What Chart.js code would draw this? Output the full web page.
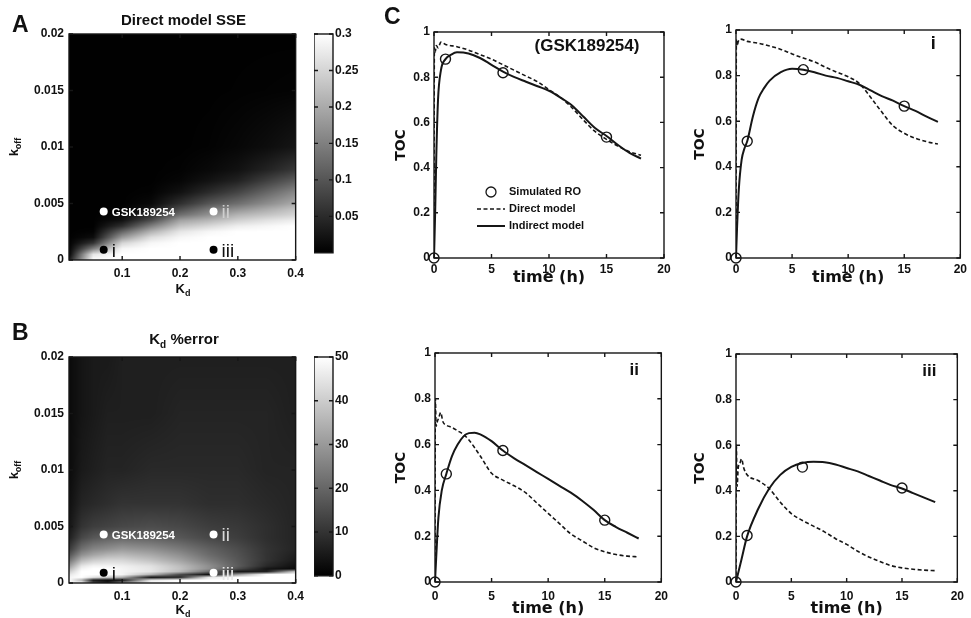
<!DOCTYPE html>
<html>
<head>
<meta charset="utf-8">
<script src="https://cdn.jsdelivr.net/npm/chart.js@4.4.1/dist/chart.umd.min.js"></script>
<style>
body { margin: 0; background: #fff; width: 971px; height: 618px; overflow: hidden; position: relative; }
canvas { position: absolute; }
</style>
</head>
<body>
<canvas id="heatA" width="310" height="300" style="left:0;top:0"></canvas>
<canvas id="barA" width="50" height="262" style="left:314px;top:0"></canvas>
<canvas id="heatB" width="310" height="318" style="left:0;top:300px"></canvas>
<canvas id="barB" width="50" height="285" style="left:314px;top:300px"></canvas>
<canvas id="tocGsk" width="295" height="287" style="left:380px;top:0"></canvas>
<canvas id="tocI" width="279" height="287" style="left:692px;top:0"></canvas>
<canvas id="tocII" width="295" height="318" style="left:380px;top:300px"></canvas>
<canvas id="tocIII" width="279" height="318" style="left:692px;top:300px"></canvas>
<script>
// panel A: direct model SSE over (Kd, koff)
const kdA = [0.008, 0.05, 0.1, 0.15, 0.2, 0.25, 0.3, 0.35, 0.4];
const koffA = [0, 0.0005, 0.001, 0.0015, 0.002, 0.0025, 0.003, 0.0035, 0.004, 0.0045, 0.005, 0.006, 0.007, 0.008, 0.01, 0.015, 0.02];
const sseA = [
    [0.03, 0.3, 0.3, 0.3, 0.3, 0.3, 0.3, 0.3, 0.3],
    [0.003, 0.27, 0.3, 0.3, 0.3, 0.3, 0.3, 0.3, 0.3],
    [0.001, 0.15, 0.29, 0.3, 0.3, 0.3, 0.3, 0.3, 0.3],
    [0.001, 0.06, 0.25, 0.29, 0.3, 0.3, 0.3, 0.3, 0.3],
    [0.001, 0.015, 0.18, 0.26, 0.29, 0.3, 0.3, 0.3, 0.3],
    [0.001, 0.004, 0.12, 0.21, 0.27, 0.29, 0.3, 0.3, 0.3],
    [0.001, 0.001, 0.055, 0.15, 0.23, 0.255, 0.28, 0.29, 0.3],
    [0.001, 0.001, 0.02, 0.09, 0.19, 0.215, 0.245, 0.265, 0.28],
    [0.001, 0.001, 0.007, 0.05, 0.13, 0.17, 0.21, 0.23, 0.25],
    [0.001, 0.001, 0.003, 0.025, 0.09, 0.14, 0.17, 0.2, 0.23],
    [0.001, 0.001, 0.001, 0.01, 0.055, 0.1, 0.13, 0.165, 0.2],
    [0.001, 0.001, 0.001, 0.003, 0.02, 0.05, 0.08, 0.12, 0.16],
    [0.001, 0.001, 0.001, 0.001, 0.007, 0.022, 0.04, 0.075, 0.11],
    [0.001, 0.001, 0.001, 0.001, 0.003, 0.01, 0.02, 0.04, 0.065],
    [0.001, 0.001, 0.001, 0.001, 0.001, 0.003, 0.008, 0.015, 0.025],
    [0.001, 0.001, 0.001, 0.001, 0.001, 0.001, 0.002, 0.003, 0.004],
    [0.001, 0.001, 0.001, 0.001, 0.001, 0.001, 0.001, 0.001, 0.001]
];

// panel B: Kd %error over (Kd, koff)
const kdB = [0.008, 0.03, 0.05, 0.075, 0.1, 0.15, 0.2, 0.25, 0.3, 0.35, 0.4];
const koffB = [0, 0.00025, 0.0005, 0.00075, 0.001, 0.00125, 0.0015, 0.002, 0.0025, 0.003, 0.004, 0.005, 0.007, 0.01, 0.015, 0.02];
const errB = [
    [48, 50, 15, 5, 30, 50, 50, 50, 50, 50, 50],
    [50, 35, 5, 2, 4, 45, 50, 50, 50, 50, 50],
    [48, 50, 45, 40, 35, 3, 8, 45, 50, 50, 50],
    [45, 50, 50, 50, 48, 35, 15, 3, 30, 50, 50],
    [40, 50, 50, 50, 48, 45, 36, 20, 4, 6, 40],
    [35, 48, 50, 50, 48, 45, 38, 28, 15, 4, 2],
    [30, 45, 48, 48, 47, 44, 37, 28, 18, 8, 3],
    [22, 36, 40, 42, 42, 38, 32, 24, 17, 10, 5],
    [16, 28, 32, 35, 36, 33, 28, 21, 16, 10, 6],
    [11, 22, 26, 28, 30, 28, 24, 19, 15, 10, 7],
    [6, 14, 17, 19, 20, 19, 17, 14, 12, 9, 7],
    [4, 10, 12, 13, 14, 15, 14, 12, 11, 9, 7],
    [3, 7, 8, 9, 10, 10, 10, 9, 9, 8, 7],
    [2, 5, 6, 7, 7, 8, 8, 8, 8, 7, 7],
    [2, 4, 5, 6, 6, 6, 7, 7, 7, 7, 6],
    [2, 4, 5, 5, 6, 6, 6, 6, 6, 6, 6]
];

const kdTicks = [0.1, 0.2, 0.3, 0.4];
const koffTicks = [0, 0.005, 0.01, 0.015, 0.02];
const sseBarTicks = [0.05, 0.1, 0.15, 0.2, 0.25, 0.3];
const errBarTicks = [0, 10, 20, 30, 40, 50];

// marked compounds on the maps
const markNames = ['GSK189254', 'ii', 'i', 'iii'];
const markKd = [0.068, 0.258, 0.068, 0.258];
const markKoff = [0.0043, 0.0043, 0.0009, 0.0009];

// panel C: target occupancy vs time
const roTimes = [0, 1, 6, 15];
const roGsk = [0, 0.88, 0.82, 0.535];
const roI = [0, 0.512, 0.826, 0.666];
const roII = [0, 0.472, 0.574, 0.27];
const roIII = [0, 0.204, 0.504, 0.412];

const directTGsk = [0, 0.03, 0.1, 0.2, 0.35, 0.6, 1, 2, 3, 4, 5, 6, 7, 8, 9, 10, 11, 12, 13, 14, 15, 16, 17, 18];
const directGsk = [0, 0.93, 0.91, 0.94, 0.93, 0.955, 0.945, 0.935, 0.92, 0.9, 0.88, 0.855, 0.83, 0.805, 0.78, 0.745, 0.71, 0.665, 0.61, 0.56, 0.525, 0.495, 0.47, 0.455];
const indirectTGsk = [0, 0.1, 0.2, 0.35, 0.6, 1, 1.5, 2, 3, 4, 5, 6, 7, 8, 9, 10, 11, 12, 13, 14, 15, 16, 17, 18];
const indirectGsk = [0, 0.2, 0.45, 0.7, 0.83, 0.88, 0.9, 0.91, 0.905, 0.885, 0.855, 0.825, 0.8, 0.78, 0.76, 0.74, 0.71, 0.675, 0.625, 0.575, 0.54, 0.5, 0.465, 0.44];

const directTI = [0, 0.03, 0.1, 0.2, 0.4, 1, 2, 3, 4, 5, 6, 7, 8, 9, 10, 11, 12, 13, 14, 15, 16, 17, 18];
const directI = [0, 0.96, 0.93, 0.95, 0.96, 0.95, 0.942, 0.93, 0.915, 0.895, 0.877, 0.86, 0.836, 0.815, 0.795, 0.765, 0.705, 0.64, 0.58, 0.547, 0.525, 0.51, 0.5];
const indirectTI = [0, 0.1, 0.25, 0.5, 0.75, 1, 1.5, 2, 2.5, 3, 4, 5, 6, 7, 8, 9, 10, 11, 12, 13, 14, 15, 16, 17, 18];
const indirectI = [0, 0.14, 0.3, 0.43, 0.48, 0.512, 0.62, 0.7, 0.745, 0.778, 0.815, 0.83, 0.826, 0.815, 0.8, 0.79, 0.775, 0.76, 0.735, 0.71, 0.69, 0.666, 0.645, 0.62, 0.597];

const directTII = [0, 0.03, 0.1, 0.2, 0.35, 0.5, 0.7, 1, 1.5, 2, 2.5, 3, 4, 5, 6, 7, 8, 9, 10, 11, 12, 13, 14, 15, 16, 17, 18];
const directII = [0, 0.8, 0.68, 0.7, 0.72, 0.74, 0.7, 0.685, 0.675, 0.66, 0.645, 0.62, 0.55, 0.475, 0.445, 0.42, 0.39, 0.345, 0.3, 0.255, 0.21, 0.18, 0.15, 0.132, 0.12, 0.113, 0.11];
const indirectTII = [0, 0.1, 0.3, 0.6, 1, 1.5, 2, 2.5, 3, 3.5, 4, 5, 6, 7, 8, 9, 10, 11, 12, 13, 14, 15, 16, 17, 18];
const indirectII = [0, 0.1, 0.28, 0.4, 0.472, 0.55, 0.6, 0.635, 0.65, 0.652, 0.645, 0.615, 0.574, 0.54, 0.51, 0.48, 0.45, 0.42, 0.39, 0.355, 0.315, 0.27, 0.24, 0.215, 0.19];

const directTIII = [0, 0.03, 0.1, 0.2, 0.35, 0.5, 0.7, 1, 2, 3, 4, 5, 6, 7, 8, 9, 10, 11, 12, 13, 14, 15, 16, 17, 18];
const directIII = [0, 0.6, 0.42, 0.5, 0.52, 0.54, 0.5, 0.47, 0.445, 0.41, 0.35, 0.3, 0.27, 0.245, 0.22, 0.19, 0.165, 0.135, 0.11, 0.09, 0.072, 0.062, 0.056, 0.052, 0.05];
const indirectTIII = [0, 0.5, 1, 2, 3, 4, 5, 6, 7, 8, 9, 10, 11, 12, 13, 14, 15, 16, 17, 18];
const indirectIII = [0, 0.1, 0.2, 0.32, 0.41, 0.47, 0.505, 0.522, 0.527, 0.525, 0.515, 0.5, 0.485, 0.465, 0.445, 0.425, 0.41, 0.39, 0.37, 0.35];

const seriesNames = ['Simulated RO', 'Direct model', 'Indirect model'];

Chart.defaults.font.family = "'Liberation Sans', Arial, sans-serif";
Chart.defaults.color = '#111';
let tickFont = { size: 12, weight: 'bold' };
let noGrid = { display: false, drawTicks: false, tickLength: 0 };
let ink = '#161616';
let fmt = v => String(parseFloat(Number(v).toFixed(4)));

function findCell(arr, v) {
    if (v <= arr[0]) return [0, 0];
    for (let i = 0; i < arr.length - 1; i++) {
        if (v <= arr[i + 1]) return [i, (v - arr[i]) / (arr[i + 1] - arr[i])];
    }
    return [arr.length - 2, 1];
}

function sampleGrid(xs, ys, z, x, y) {
    let [i, fx] = findCell(xs, x);
    let [j, fy] = findCell(ys, y);
    let top = z[j][i] * (1 - fx) + z[j][i + 1] * fx;
    let bot = z[j + 1][i] * (1 - fx) + z[j + 1][i + 1] * fx;
    return top * (1 - fy) + bot * fy;
}

function heatPlugin(xs, ys, z, vmax) {
    return {
        id: 'heat',
        beforeDatasetsDraw(chart) {
            let a = chart.chartArea;
            let sx = chart.scales.x, sy = chart.scales.y;
            let w = Math.round(a.right - a.left), h = Math.round(a.bottom - a.top);
            let off = document.createElement('canvas');
            off.width = w; off.height = h;
            let octx = off.getContext('2d');
            let img = octx.createImageData(w, h);
            for (let py = 0; py < h; py++) {
                let koff = sy.getValueForPixel(a.top + py + 0.5);
                for (let px = 0; px < w; px++) {
                    let kd = sx.getValueForPixel(a.left + px + 0.5);
                    let v = sampleGrid(xs, ys, z, kd, koff) / vmax;
                    let g = Math.round(255 * Math.max(0, Math.min(1, v)));
                    let k = (py * w + px) * 4;
                    img.data[k] = g; img.data[k + 1] = g; img.data[k + 2] = g; img.data[k + 3] = 255;
                }
            }
            octx.putImageData(img, 0, 0);
            chart.ctx.drawImage(off, a.left, a.top);
        }
    };
}

let boxPlugin = {
    id: 'box',
    afterDraw(chart) {
        let ctx = chart.ctx, a = chart.chartArea, len = 4;
        ctx.save();
        ctx.strokeStyle = ink;
        ctx.lineWidth = 1.4;
        ctx.strokeRect(a.left, a.top, a.right - a.left, a.bottom - a.top);
        ctx.beginPath();
        let sx = chart.scales.x, sy = chart.scales.y;
        if (sx.options.display !== false) {
            sx.ticks.forEach(t => {
                let p = sx.getPixelForValue(t.value);
                ctx.moveTo(p, a.bottom); ctx.lineTo(p, a.bottom - len);
                ctx.moveTo(p, a.top); ctx.lineTo(p, a.top + len);
            });
        }
        sy.ticks.forEach(t => {
            let p = sy.getPixelForValue(t.value);
            ctx.moveTo(a.left, p); ctx.lineTo(a.left + len, p);
            ctx.moveTo(a.right, p); ctx.lineTo(a.right - len, p);
        });
        ctx.stroke();
        ctx.restore();
    }
};

let gradientPlugin = {
    id: 'gradient',
    beforeDatasetsDraw(chart) {
        let ctx = chart.ctx, a = chart.chartArea, sy = chart.scales.y;
        let g = ctx.createLinearGradient(0, sy.getPixelForValue(sy.min), 0, sy.getPixelForValue(sy.max));
        g.addColorStop(0, '#000');
        g.addColorStop(1, '#fff');
        ctx.save();
        ctx.fillStyle = g;
        ctx.fillRect(a.left, a.top, a.right - a.left, a.bottom - a.top);
        ctx.restore();
    }
};

// draws a run of text pieces, some of them subscripts
function drawParts(ctx, parts, x, y, align) {
    let widths = parts.map(p => {
        ctx.font = 'bold ' + p.size + "px 'Liberation Sans', Arial, sans-serif";
        return ctx.measureText(p.t).width;
    });
    let total = widths.reduce((s, w) => s + w, 0);
    let cx = align === 'center' ? x - total / 2 : x;
    ctx.textAlign = 'left';
    ctx.textBaseline = 'alphabetic';
    parts.forEach((p, i) => {
        ctx.font = 'bold ' + p.size + "px 'Liberation Sans', Arial, sans-serif";
        ctx.fillText(p.t, cx, y + (p.dy || 0));
        cx += widths[i];
    });
}

function textPlugin(draw) {
    return {
        id: 'texts',
        afterDraw(chart) {
            let ctx = chart.ctx;
            ctx.save();
            ctx.fillStyle = '#111';
            draw(ctx, chart.chartArea);
            ctx.restore();
        }
    };
}

function markLabelPlugin(colors) {
    return {
        id: 'markLabels',
        afterDatasetsDraw(chart) {
            let ctx = chart.ctx;
            let pts = chart.getDatasetMeta(0).data;
            ctx.save();
            ctx.textAlign = 'left';
            pts.forEach((pt, i) => {
                ctx.fillStyle = colors[i];
                if (i === 0) {
                    ctx.font = "bold 11.5px 'Liberation Sans', Arial, sans-serif";
                    ctx.textBaseline = 'middle';
                    ctx.fillText(markNames[i], pt.x + 8, pt.y + 1);
                } else {
                    ctx.font = "19px 'Liberation Sans', Arial, sans-serif";
                    ctx.textBaseline = 'alphabetic';
                    ctx.fillText(markNames[i], pt.x + 8, pt.y + 7);
                }
            });
            ctx.restore();
        }
    };
}

function drawHeatmap(id, cfg) {
    return new Chart(document.getElementById(id), {
        type: 'scatter',
        data: {
            datasets: [{
                data: markKd.map((x, i) => ({ x: x, y: markKoff[i] })),
                pointRadius: 4,
                pointBorderWidth: 0,
                pointBackgroundColor: cfg.dotColors,
                pointBorderColor: cfg.dotColors
            }]
        },
        options: {
            responsive: false,
            animation: false,
            devicePixelRatio: 1,
            layout: { padding: { top: cfg.top, right: 12, left: 0, bottom: 0 } },
            plugins: { legend: { display: false }, tooltip: { enabled: false } },
            scales: {
                x: {
                    type: 'linear', min: 0.008, max: 0.4,
                    grid: noGrid, border: { display: false },
                    ticks: { font: tickFont, padding: cfg.xPad, color: '#111', callback: fmt, maxRotation: 0 },
                    afterBuildTicks: s => { s.ticks = kdTicks.map(v => ({ value: v })); },
                    afterFit: s => { s.height = cfg.xHeight; }
                },
                y: {
                    type: 'linear', min: 0, max: 0.02,
                    grid: noGrid, border: { display: false },
                    ticks: { font: tickFont, padding: 5, color: '#111', callback: fmt },
                    afterBuildTicks: s => { s.ticks = koffTicks.map(v => ({ value: v })); },
                    afterFit: s => { s.width = 69; }
                }
            }
        },
        plugins: [heatPlugin(cfg.xs, cfg.ys, cfg.z, cfg.vmax), markLabelPlugin(cfg.labelColors), boxPlugin, textPlugin(cfg.texts)]
    });
}

function drawColorbar(id, cfg) {
    return new Chart(document.getElementById(id), {
        type: 'scatter',
        data: { datasets: [] },
        options: {
            responsive: false,
            animation: false,
            devicePixelRatio: 1,
            layout: { padding: { top: cfg.top, bottom: 2, left: 0, right: 0 } },
            plugins: { legend: { display: false }, tooltip: { enabled: false } },
            scales: {
                x: { display: false, min: 0, max: 1 },
                y: {
                    position: 'right', min: cfg.min, max: cfg.max,
                    grid: noGrid, border: { display: false },
                    ticks: { font: tickFont, padding: 2, color: '#111', callback: fmt },
                    afterBuildTicks: s => { s.ticks = cfg.ticks.map(v => ({ value: v })); },
                    afterFit: s => { s.width = 31; }
                }
            }
        },
        plugins: [gradientPlugin, boxPlugin]
    });
}

let legendPlugin = {
    id: 'tocLegend',
    afterDraw(chart) {
        let ctx = chart.ctx, a = chart.chartArea;
        let x0 = a.left + 43, rows = [160, 177, 194];
        ctx.save();
        ctx.strokeStyle = ink;
        ctx.fillStyle = '#111';
        ctx.font = "bold 11px 'Liberation Sans', Arial, sans-serif";
        ctx.textBaseline = 'middle';
        chart.data.datasets.forEach((ds, i) => {
            let y = a.top + rows[i];
            ctx.beginPath();
            if (ds.showLine === false) {
                ctx.lineWidth = 1.3;
                ctx.setLineDash([]);
                ctx.arc(x0 + 14, y, 5, 0, Math.PI * 2);
            } else {
                ctx.lineWidth = ds.borderWidth;
                ctx.setLineDash(ds.borderDash || []);
                ctx.moveTo(x0, y); ctx.lineTo(x0 + 28, y);
            }
            ctx.stroke();
            ctx.setLineDash([]);
            ctx.fillText(ds.label, x0 + 32, y);
        });
        ctx.restore();
    }
};

function tagPlugin(text, size, dx, dy) {
    return textPlugin((ctx, a) => {
        ctx.font = 'bold ' + size + "px 'Liberation Sans', Arial, sans-serif";
        ctx.textAlign = 'center';
        ctx.textBaseline = 'alphabetic';
        ctx.fillText(text, a.right - dx, a.top + dy);
    });
}

function drawToc(id, cfg) {
    let pts = (xs, ys) => xs.map((x, i) => ({ x: x, y: ys[i] }));
    let plugins = [boxPlugin, cfg.tag];
    if (cfg.legend) plugins.push(legendPlugin);
    if (cfg.extra) plugins.push(cfg.extra);
    return new Chart(document.getElementById(id), {
        type: 'line',
        data: {
            datasets: [{
                label: seriesNames[0],
                data: pts(roTimes, cfg.ro),
                showLine: false,
                pointRadius: 5,
                pointBorderWidth: 1.4,
                pointBorderColor: ink,
                pointBackgroundColor: 'rgba(0,0,0,0)',
                clip: false
            }, {
                label: seriesNames[1],
                data: pts(cfg.dT, cfg.dV),
                borderColor: ink,
                borderWidth: 1.6,
                borderDash: [4, 2.5],
                pointRadius: 0,
                cubicInterpolationMode: 'monotone',
                fill: false
            }, {
                label: seriesNames[2],
                data: pts(cfg.sT, cfg.sV),
                borderColor: ink,
                borderWidth: 2,
                pointRadius: 0,
                cubicInterpolationMode: 'monotone',
                fill: false
            }]
        },
        options: {
            responsive: false,
            animation: false,
            devicePixelRatio: 1,
            layout: { padding: { top: cfg.top, right: cfg.right, left: cfg.left, bottom: 0 } },
            plugins: { legend: { display: false }, tooltip: { enabled: false } },
            scales: {
                x: {
                    type: 'linear', min: 0, max: 20,
                    grid: noGrid, border: { display: false },
                    ticks: { stepSize: 5, font: tickFont, padding: cfg.xPad, color: '#111', callback: fmt, maxRotation: 0 },
                    title: { display: true, text: 'time (h)', color: '#111', padding: 0, font: { family: "'DejaVu Sans', sans-serif", size: 16, weight: 'bold' } },
                    afterFit: s => { s.height = cfg.xHeight; }
                },
                y: {
                    type: 'linear', min: 0, max: 1,
                    grid: noGrid, border: { display: false },
                    ticks: { stepSize: 0.2, font: tickFont, padding: 4, color: '#111', callback: fmt },
                    title: { display: true, text: 'TOC', color: '#111', padding: 0, font: { family: "'DejaVu Sans', sans-serif", size: 14, weight: 'bold' } },
                    afterFit: s => { s.width = cfg.yWidth; }
                }
            }
        },
        plugins: plugins
    });
}

drawHeatmap('heatA', {
    xs: kdA, ys: koffA, z: sseA, vmax: 0.3,
    top: 34, xHeight: 40, xPad: 6,
    dotColors: ['#fff', '#fff', '#000', '#000'],
    labelColors: ['#fff', '#cfcfcf', '#111', '#111'],
    texts: (ctx, a) => {
        drawParts(ctx, [{ t: 'A', size: 23 }], 12, 32, 'left');
        drawParts(ctx, [{ t: 'Direct model SSE', size: 15 }], 183.5, 25, 'center');
        drawParts(ctx, [{ t: 'K', size: 13 }, { t: 'd', size: 9, dy: 3 }], 183, 293, 'center');
        ctx.save();
        ctx.translate(18, 147);
        ctx.rotate(-Math.PI / 2);
        drawParts(ctx, [{ t: 'k', size: 13 }, { t: 'off', size: 9, dy: 3 }], 0, 0, 'center');
        ctx.restore();
    }
});

drawColorbar('barA', { top: 34, min: 0, max: 0.3, ticks: sseBarTicks });

drawHeatmap('heatB', {
    xs: kdB, ys: koffB, z: errB, vmax: 50,
    top: 57, xHeight: 35, xPad: 6,
    dotColors: ['#fff', '#fff', '#000', '#fff'],
    labelColors: ['#fff', '#d8d8d8', '#111', '#e8e8e8'],
    texts: (ctx, a) => {
        drawParts(ctx, [{ t: 'B', size: 23 }], 12, 40, 'left');
        drawParts(ctx, [{ t: 'K', size: 15 }, { t: 'd', size: 10, dy: 4 }, { t: ' %error', size: 15 }], 184, 44, 'center');
        drawParts(ctx, [{ t: 'K', size: 13 }, { t: 'd', size: 9, dy: 3 }], 183, 314, 'center');
        ctx.save();
        ctx.translate(18, 170);
        ctx.rotate(-Math.PI / 2);
        drawParts(ctx, [{ t: 'k', size: 13 }, { t: 'off', size: 9, dy: 3 }], 0, 0, 'center');
        ctx.restore();
    }
});

drawColorbar('barB', { top: 57, min: 0, max: 50, ticks: errBarTicks });

drawToc('tocGsk', {
    ro: roGsk, dT: directTGsk, dV: directGsk, sT: indirectTGsk, sV: indirectGsk,
    top: 32, left: 13, right: 11, yWidth: 41, xHeight: 29, xPad: 4, legend: true,
    tag: tagPlugin('(GSK189254)', 17, 77, 19),
    extra: textPlugin((ctx, a) => {
        drawParts(ctx, [{ t: 'C', size: 23 }], 4, 24, 'left');
    })
});

drawToc('tocI', {
    ro: roI, dT: directTI, dV: directI, sT: indirectTI, sV: indirectI,
    top: 30, left: 0, right: 6, yWidth: 44, xHeight: 29, xPad: 4,
    tag: tagPlugin('i', 18, 27, 19)
});

drawToc('tocII', {
    ro: roII, dT: directTII, dV: directII, sT: indirectTII, sV: indirectII,
    top: 53, left: 13, right: 11, yWidth: 42, xHeight: 36, xPad: 7,
    tag: tagPlugin('ii', 17, 27, 22)
});

drawToc('tocIII', {
    ro: roIII, dT: directTIII, dV: directIII, sT: indirectTIII, sV: indirectIII,
    top: 54, left: 0, right: 6, yWidth: 44, xHeight: 36, xPad: 7,
    tag: tagPlugin('iii', 17, 28, 22)
});
</script>
</body>
</html>
